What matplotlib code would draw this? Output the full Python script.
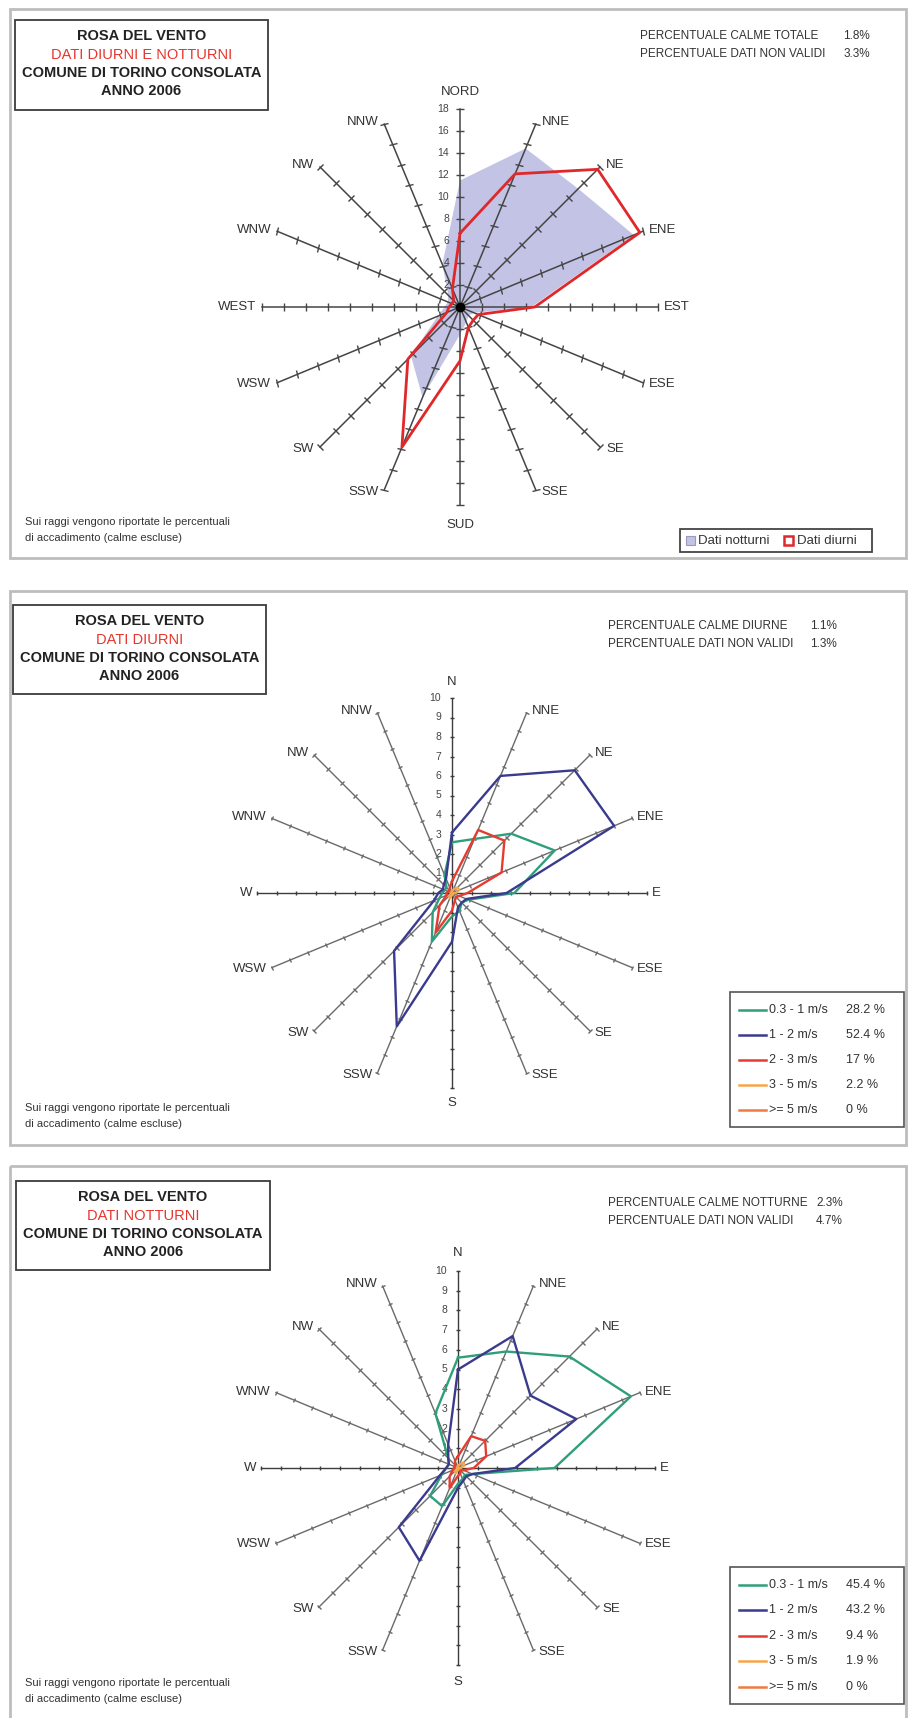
import numpy as np
import matplotlib
matplotlib.use("Agg")
import matplotlib.pyplot as plt
from matplotlib.markers import MarkerStyle
from matplotlib.transforms import Affine2D
from matplotlib.patches import Rectangle

plt.rcParams['font.family'] = ['Liberation Sans', 'DejaVu Sans']

W, H = 911, 1718

# ---- data -------------------------------------------------------------
sectors = ["N", "NNE", "NE", "ENE", "E", "ESE", "SE", "SSE",
           "S", "SSW", "SW", "WSW", "W", "WNW", "NW", "NNW"]
sector_labels_long = ["NORD", "NNE", "NE", "ENE", "EST", "ESE", "SE", "SSE",
                      "SUD", "SSW", "SW", "WSW", "WEST", "WNW", "NW", "NNW"]
sector_labels_short = ["N", "NNE", "NE", "ENE", "E", "ESE", "SE", "SSE",
                       "S", "SSW", "SW", "WSW", "W", "WNW", "NW", "NNW"]

# frequency (%) per sector, calms excluded - all data (day / night)
freq_notturni = [11.5, 15.6, 15.2, 17.1, 6.5, 1.4, 1.1, 1.5,
                 2.5, 8.9, 6.3, 2.2, 1.4, 1.2, 1.5, 4.2]
freq_diurni = [6.7, 13.1, 17.7, 17.7, 6.8, 1.8, 1.7, 2.0,
               4.9, 13.8, 6.7, 1.3, 1.0, 0.8, 0.8, 1.8]

speed_classes = ["0.3 - 1 m/s", "1 - 2 m/s", "2 - 3 m/s", "3 - 5 m/s", ">= 5 m/s"]

# day-time frequency (%) per sector and speed class
day_03_1 = [2.6, 3.0, 4.3, 5.7, 3.2, 0.9, 0.7, 1.0, 1.2, 2.7, 1.4, 0.7, 0.5, 0.4, 0.4, 1.0]
day_1_2 = [3.1, 6.5, 8.9, 9.0, 2.8, 0.8, 0.7, 0.8, 2.5, 7.4, 4.2, 1.0, 0.7, 0.5, 0.6, 0.8]
day_2_3 = [0.6, 3.5, 3.8, 2.75, 0.8, 0.4, 0.3, 0.4, 0.9, 2.2, 0.9, 0.3, 0.3, 0.2, 0.2, 0.3]
day_3_5 = [0.1, 0.2, 0.4, 0.4, 0.2, 0.05, 0.05, 0.1, 0.1, 0.3, 0.2, 0.05, 0.05, 0.0, 0.0, 0.05]
day_5p = [0.0] * 16
day_class_pct = ["28.2 %", "52.4 %", "17 %", "2.2 %", "0 %"]

# night-time frequency (%) per sector and speed class
night_03_1 = [5.6, 6.4, 8.0, 9.5, 4.9, 0.8, 0.5, 0.6, 0.8, 2.1, 2.0, 0.9, 0.6, 0.5, 0.7, 3.0]
night_1_2 = [5.0, 7.25, 5.2, 6.5, 2.9, 0.8, 0.6, 0.7, 1.0, 5.1, 4.25, 1.0, 0.6, 0.5, 0.7, 1.3]
night_2_3 = [0.6, 1.75, 1.95, 1.55, 0.8, 0.3, 0.2, 0.3, 0.4, 1.1, 0.6, 0.3, 0.2, 0.2, 0.2, 0.4]
night_3_5 = [0.1, 0.2, 0.4, 0.35, 0.15, 0.05, 0.05, 0.05, 0.1, 0.3, 0.2, 0.05, 0.05, 0.0, 0.0, 0.05]
night_5p = [0.0] * 16
night_class_pct = ["45.4 %", "43.2 %", "9.4 %", "1.9 %", "0 %"]

class_colors = ["#2f9e7c", "#3a3a8e", "#e63b30", "#f4a64c", "#ef7b3e"]

# ---- figure -----------------------------------------------------------
fig = plt.figure(figsize=(W / 100, H / 100), dpi=100)
fig.patch.set_facecolor("white")
bg = fig.add_axes([0, 0, 1, 1])
bg.set_xlim(0, W)
bg.set_ylim(H, 0)
bg.axis("off")

theta = np.deg2rad(np.arange(16) * 22.5)
theta_closed = np.append(theta, theta[0])


def closed(values):
    return np.append(values, values[0])


def radar_axes(cx, cy, R, rmax):
    ax = fig.add_axes([(cx - R) / W, 1 - (cy + R) / H, 2 * R / W, 2 * R / H],
                      projection="polar")
    ax.set_theta_zero_location("N")
    ax.set_theta_direction(-1)
    ax.set_ylim(0, rmax)
    ax.set_axis_off()
    return ax


def draw_spokes(ax, rmax, step, labels, tick_ms, color_major, color_minor, lw,
                label_size, n_gap, s_gap, side_gap):
    ticks = np.arange(step, rmax + 0.01, step)
    for i, th in enumerate(theta):
        compass = 22.5 * i
        col = color_major if i % 4 == 0 else color_minor
        ax.plot([th, th], [0, rmax], color=col, lw=lw, zorder=2, clip_on=False)
        mk = MarkerStyle("_", transform=Affine2D().rotate_deg(-compass))
        ax.plot(np.full(len(ticks), th), ticks, linestyle="none", marker=mk,
                ms=tick_ms, mew=1.0, color=col, zorder=2, clip_on=False)
        if compass == 0:
            off, ha = (0, n_gap), "center"
        elif compass == 180:
            off, ha = (0, -s_gap), "center"
        elif compass < 180:
            off, ha = (side_gap, 2.5 * np.cos(th)), "left"
        else:
            off, ha = (-side_gap, 2.5 * np.cos(th)), "right"
        ax.annotate(labels[i], xy=(th, rmax), xytext=off, textcoords="offset pixels",
                    ha=ha, va="center", fontsize=label_size, color="#333333",
                    annotation_clip=False, zorder=5)
    for t in ticks:
        ax.annotate(f"{t:g}", xy=(0, t), xytext=(-11, 0), textcoords="offset pixels",
                    ha="right", va="center", fontsize=7.5, color="#444444",
                    annotation_clip=False, zorder=1)


def panel_frame(y0, y1):
    bg.add_patch(Rectangle((10, y0), 896, y1 - y0, fill=False,
                           edgecolor="#bdbdbd", lw=2.0))


def title_box(x0, y0, w, h, subtitle):
    bg.add_patch(Rectangle((x0, y0), w, h, fill=False, edgecolor="#3c3c3c", lw=1.3))
    xc = x0 + w / 2
    bg.text(xc, y0 + 16, "ROSA DEL VENTO", ha="center", va="center",
            fontsize=10.5, fontweight="bold", color="#222222")
    bg.text(xc, y0 + 35, subtitle, ha="center", va="center",
            fontsize=10.5, color="#e8342c")
    bg.text(xc, y0 + 53, "COMUNE DI TORINO CONSOLATA", ha="center", va="center",
            fontsize=10.5, fontweight="bold", color="#222222")
    bg.text(xc, y0 + 71, "ANNO 2006", ha="center", va="center",
            fontsize=10.5, fontweight="bold", color="#222222")


def info_text(x0, x1, y0, lines):
    for k, (lab, val) in enumerate(lines):
        bg.text(x0, y0 + 18 * k, lab, ha="left", va="center", fontsize=8.5, color="#333333")
        bg.text(x1, y0 + 18 * k, val, ha="right", va="center", fontsize=8.5, color="#333333")


def footnote(y0):
    bg.text(25, y0, "Sui raggi vengono riportate le percentuali", ha="left",
            va="center", fontsize=8, color="#333333")
    bg.text(25, y0 + 16, "di accadimento (calme escluse)", ha="left",
            va="center", fontsize=8, color="#333333")


def class_legend(x0, y0, x1, y1, pct):
    bg.add_patch(Rectangle((x0, y0), x1 - x0, y1 - y0, fill=False,
                           edgecolor="#555555", lw=1.2))
    step = (y1 - y0 - 10) / 5
    for k in range(5):
        yy = y0 + 14 + step * k + 4
        bg.plot([x0 + 9, x0 + 36], [yy, yy], color=class_colors[k], lw=1.8)
        bg.text(x0 + 39, yy, speed_classes[k], ha="left", va="center",
                fontsize=9, color="#333333")
        bg.text(x0 + 116, yy, pct[k], ha="left", va="center",
                fontsize=9, color="#333333")


# ---- panel 1: day and night ------------------------------------------
panel_frame(9, 558)
title_box(15, 20, 253, 90, "DATI DIURNI E NOTTURNI")
info_text(640, 870, 36, [("PERCENTUALE CALME TOTALE", "1.8%"),
                         ("PERCENTUALE DATI NON VALIDI", "3.3%")])
footnote(522)

ax1 = radar_axes(460, 307, 198, 18)
ax1.fill(theta_closed, closed(freq_notturni), color="#c3c3e6", lw=0, zorder=1)
draw_spokes(ax1, 18, 2, sector_labels_long, 5.5, "#454545", "#454545", 1.1,
            9.5, 17, 20, 6)
ax1.plot(theta_closed, closed(freq_diurni), color="#e0282a", lw=2.0, zorder=4)
ax1.plot([0], [0], "o", color="black", ms=6, zorder=6)

# legend for panel 1
bg.add_patch(Rectangle((680, 529), 192, 23, fill=False, edgecolor="#444444", lw=1.3))
bg.add_patch(Rectangle((686, 536), 9, 9, facecolor="#c3c3e6", edgecolor="#9a9ac0", lw=0.8))
bg.text(698, 541, "Dati notturni", ha="left", va="center", fontsize=9.5, color="#333333")
bg.add_patch(Rectangle((784, 536), 9, 9, facecolor="white", edgecolor="#e0282a", lw=1.8))
bg.text(797, 541, "Dati diurni", ha="left", va="center", fontsize=9.5, color="#333333")

# ---- panel 2: day-time by speed class ---------------------------------
panel_frame(591, 1145)
title_box(13, 605, 253, 89, "DATI DIURNI")
info_text(608, 837, 626, [("PERCENTUALE CALME DIURNE", "1.1%"),
                          ("PERCENTUALE DATI NON VALIDI", "1.3%")])
footnote(1108)

ax2 = radar_axes(452, 893, 195, 10)
draw_spokes(ax2, 10, 1, sector_labels_short, 3.5, "#3c3c3c", "#6a6a6a", 1.0,
            9.5, 16, 15, 5)
for vals, col in zip([day_03_1, day_1_2, day_2_3, day_3_5, day_5p], class_colors):
    ax2.plot(theta_closed, closed(vals), color=col, lw=1.7, zorder=4)
class_legend(730, 992, 904, 1127, day_class_pct)

# ---- panel 3: night-time by speed class -------------------------------
panel_frame(1166, 1730)
title_box(16, 1181, 254, 89, "DATI NOTTURNI")
info_text(608, 843, 1203, [("PERCENTUALE CALME NOTTURNE", "2.3%"),
                           ("PERCENTUALE DATI NON VALIDI", "4.7%")])
footnote(1683)

ax3 = radar_axes(458, 1468, 197, 10)
draw_spokes(ax3, 10, 1, sector_labels_short, 3.5, "#3c3c3c", "#6a6a6a", 1.0,
            9.5, 18, 17, 5)
for vals, col in zip([night_03_1, night_1_2, night_2_3, night_3_5, night_5p], class_colors):
    ax3.plot(theta_closed, closed(vals), color=col, lw=1.7, zorder=4)
class_legend(730, 1567, 904, 1704, night_class_pct)

fig.savefig("out.png", dpi=100, facecolor="white")
